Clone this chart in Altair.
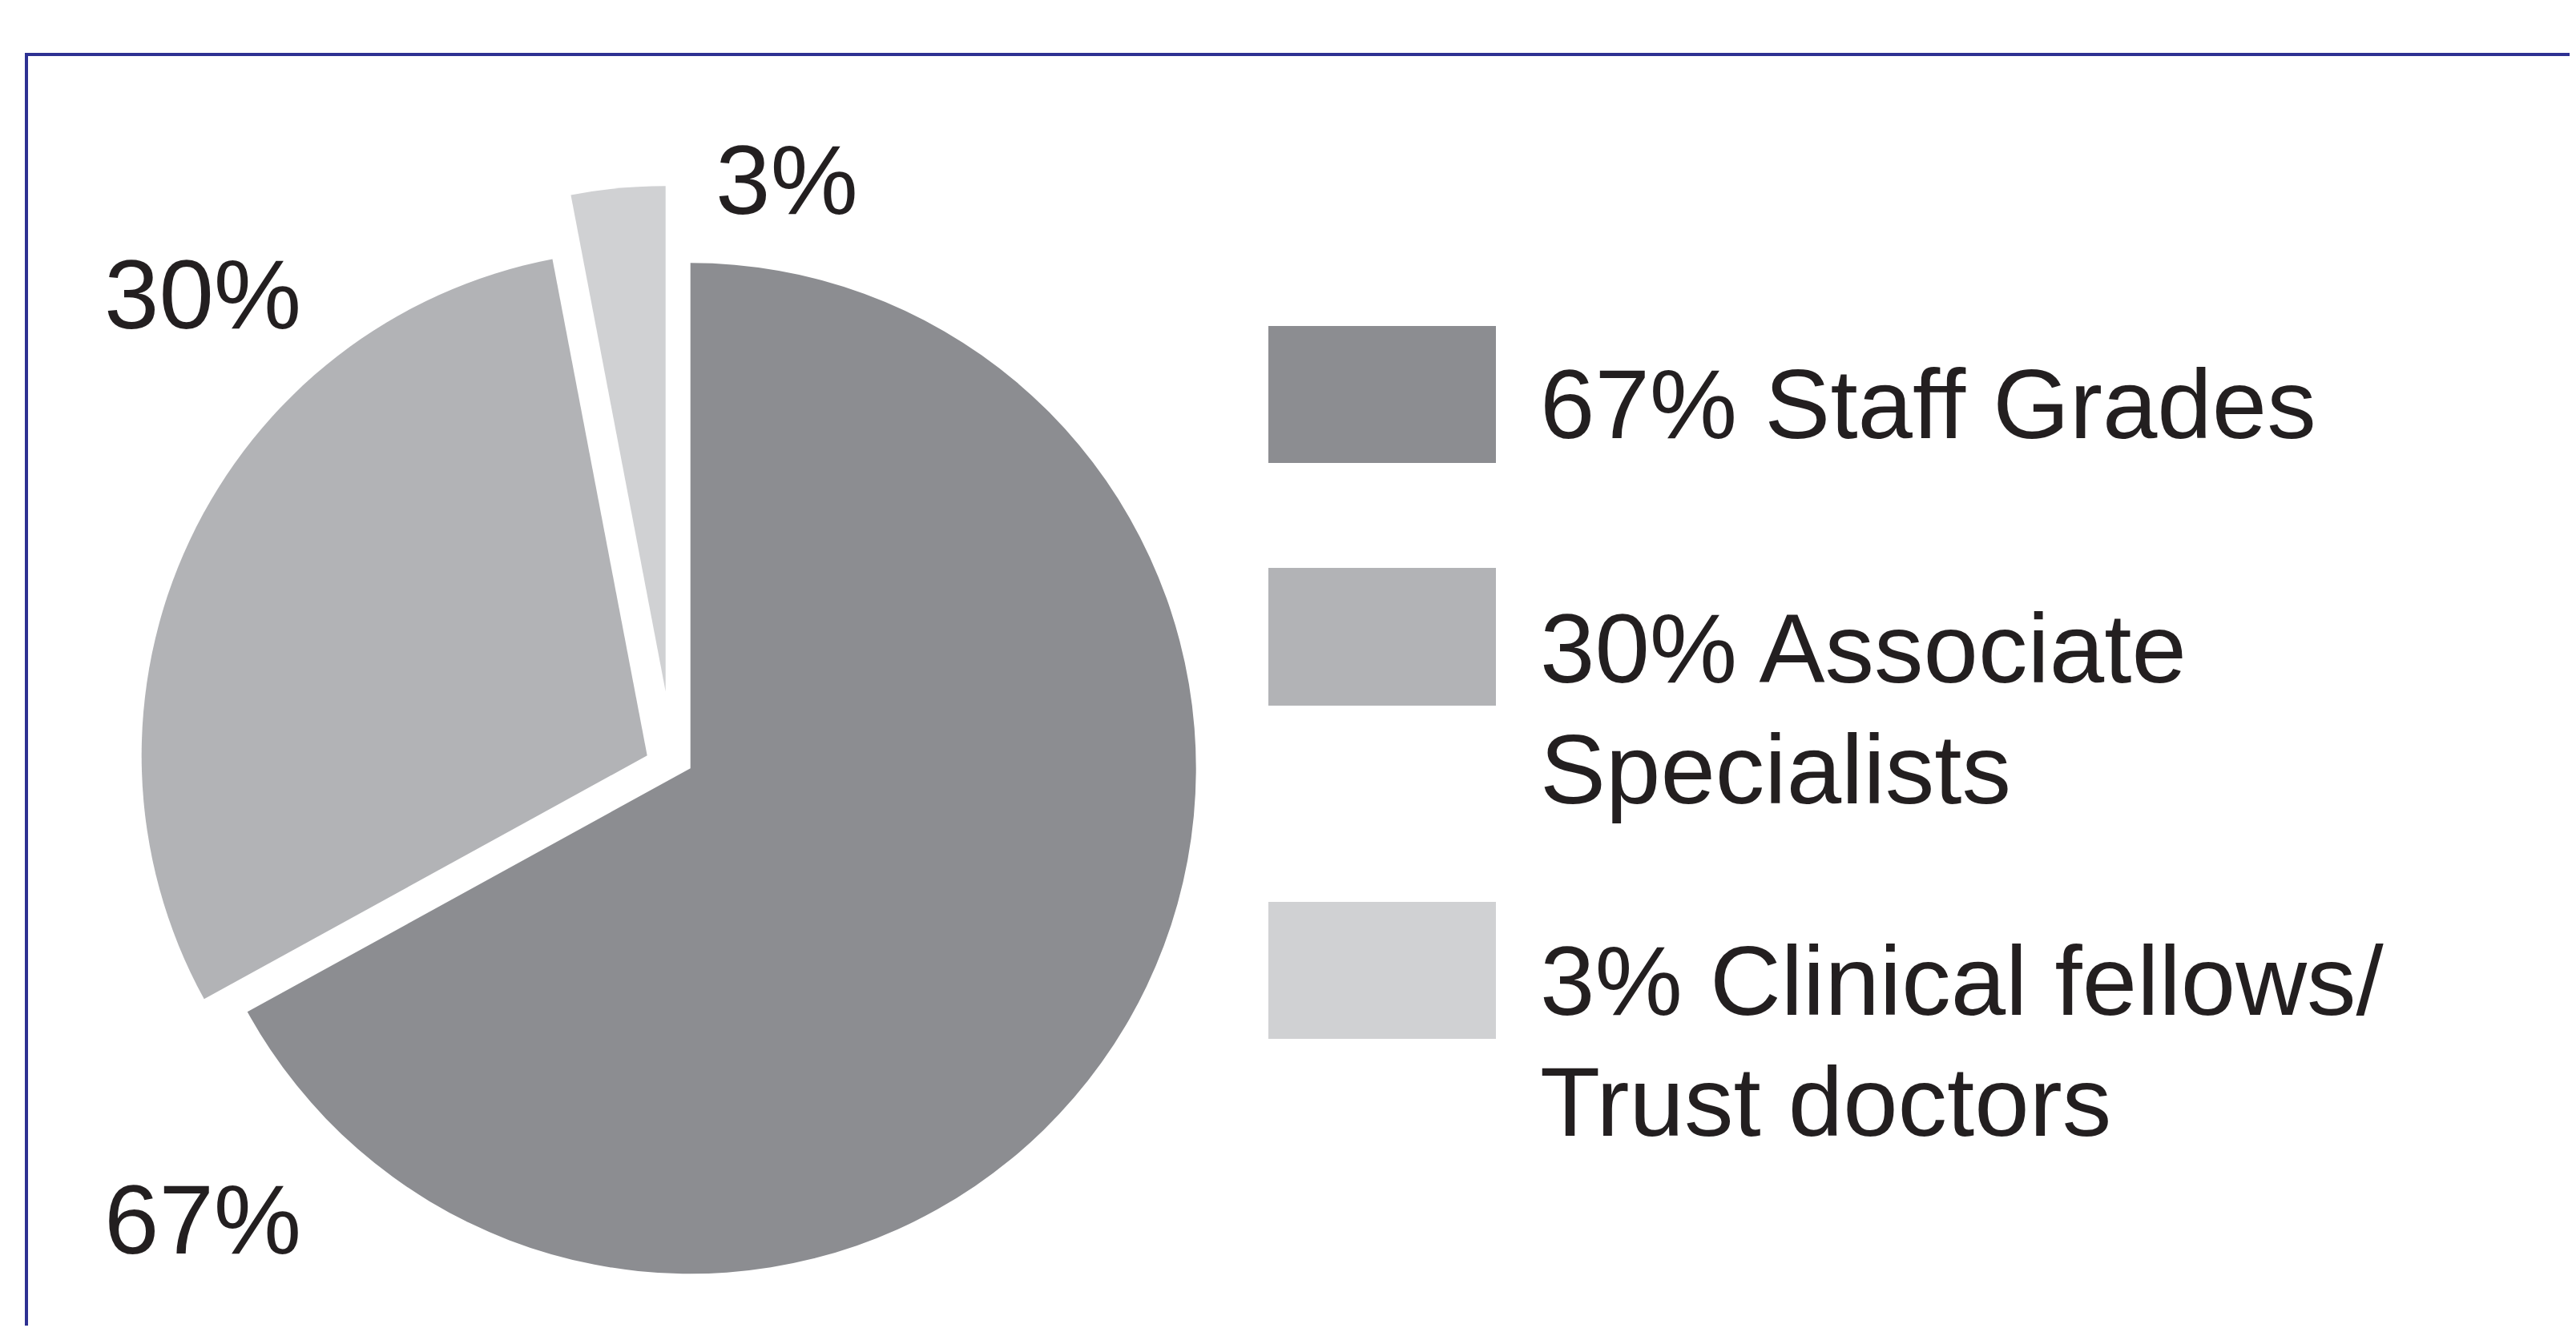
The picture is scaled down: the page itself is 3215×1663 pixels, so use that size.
import altair as alt
import pandas as pd

# ---- data ----
categories = ["Staff Grades", "Associate Specialists", "Clinical fellows/Trust doctors"]
values = [67, 30, 3]
legend_names = ["Staff Grades", "Associate\nSpecialists", "Clinical fellows/\nTrust doctors"]
colors = ["#8c8d91", "#b2b3b6", "#d0d1d3"]

starts = []
acc = 0
for v in values:
    starts.append(acc)
    acc += v
df = pd.DataFrame({
    "category": categories,
    "value": values,
    "start": starts,
    "end": [s + v for s, v in zip(starts, values)],
    "pct": [f"{v}%" for v in values],
    "legend": [f"{v}% {n}" for v, n in zip(values, legend_names)],
})

# ---- layout (chart pixel coordinates) ----
W, H = 3199, 1647
CX, CY, R = 853.7, 951.3, 631
explode = [(0, 0), (-54, -16), (-31, -96)]
pct_pos = [(122, 1557), (122, 402), (885, 259)]
swatch_y = [(399, 570), (701, 873), (1118, 1289)]
legend_text_y = [539, 844, 1259]
SW_X0, SW_X1, LEG_TX = 1575, 1859, 1914
FONT = "Liberation Sans"
FS = 123
TXT = "#231f20"
FRAME = "#2e3192"

base = alt.Chart(df)
color_enc = alt.Color("category:N", scale=alt.Scale(domain=categories, range=colors), legend=None)
theta_scale = alt.Scale(domain=[0, 100], range=[0, 6.283185307179586])

layers = []
for i, cat in enumerate(categories):
    sub = base.transform_filter(alt.datum.category == cat)
    dx, dy = explode[i]
    layers.append(
        sub.mark_arc(radius=R).encode(
            theta=alt.Theta("start:Q", scale=theta_scale),
            theta2=alt.Theta2("end:Q"),
            color=color_enc,
            x=alt.value(CX + dx),
            y=alt.value(CY + dy),
        )
    )
    px, py = pct_pos[i]
    layers.append(
        sub.mark_text(align="left", baseline="alphabetic", font=FONT, fontSize=FS, color=TXT).encode(
            text="pct:N", x=alt.value(px), y=alt.value(py)
        )
    )
    y0, y1 = swatch_y[i]
    layers.append(
        sub.mark_rect().encode(
            x=alt.value(SW_X0), x2=alt.value(SW_X1), y=alt.value(y0), y2=alt.value(y1), color=color_enc
        )
    )
    layers.append(
        sub.mark_text(
            align="left", baseline="alphabetic", font=FONT, fontSize=FS, color=TXT,
            lineBreak="\n", lineHeight=151,
        ).encode(text="legend:N", x=alt.value(LEG_TX), y=alt.value(legend_text_y[i]))
    )

frame_top = base.transform_filter(alt.datum.category == categories[0]).mark_rule(
    color=FRAME, strokeWidth=4
).encode(x=alt.value(25), x2=alt.value(W + 20), y=alt.value(60))
frame_left = base.transform_filter(alt.datum.category == categories[0]).mark_rule(
    color=FRAME, strokeWidth=4
).encode(x=alt.value(25), y=alt.value(58), y2=alt.value(H + 20))

chart = alt.layer(frame_top, frame_left, *layers).properties(
    width=W, height=H, padding=0, autosize="none", background="white"
).configure_view(stroke=None)

chart.save("out.html", embed_options={"renderer": "svg", "actions": False})
